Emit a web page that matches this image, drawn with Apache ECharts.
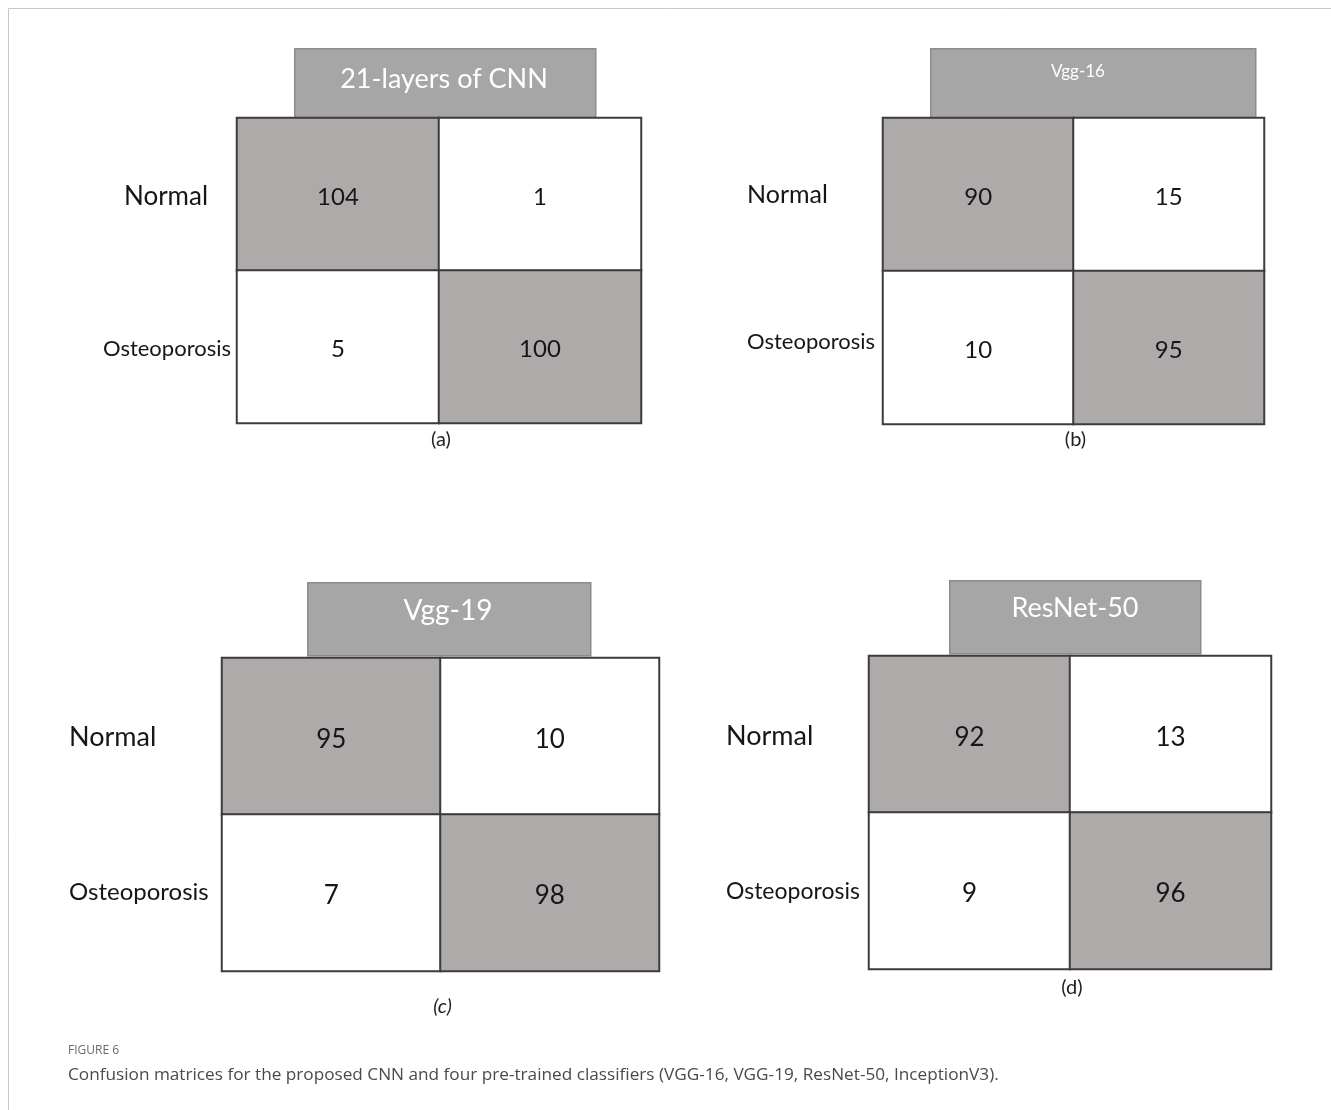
<!DOCTYPE html>
<html>
<head>
<meta charset="utf-8">
<script src="https://cdn.jsdelivr.net/npm/echarts@6/dist/echarts.min.js"></script>
<style>
  html, body { margin: 0; padding: 0; background: #ffffff; }
  #chart { width: 1331px; height: 1110px; }
</style>
</head>
<body>
<div id="chart"></div>
<script>
// Confusion matrix counts: rows = actual class, columns = predicted class
const rowLabels = ['Normal', 'Osteoporosis'];
const colLabels = ['Normal', 'Osteoporosis'];
const modelNames = ['21-layers of CNN', 'Vgg-16', 'Vgg-19', 'ResNet-50'];
const panelTags = ['(a)', '(b)', '(c)', '(d)'];
const cnn21 = [[104, 1], [5, 100]];
const vgg16 = [[90, 15], [10, 95]];
const vgg19 = [[95, 10], [7, 98]];
const resnet50 = [[92, 13], [9, 96]];
const matrices = [cnn21, vgg16, vgg19, resnet50];

const captionTitle = 'FIGURE 6';
const captionText = 'Confusion matrices for the proposed CNN and four pre-trained classifiers (VGG-16, VGG-19, ResNet-50, InceptionV3).';

// Panel geometry (pixels)
const layout = [
  { grid: [237, 118, 404, 305], head: [294, 48, 301, 70], headFont: 27, headX: 444, headY: 79,
    tagY: 440, tagItalic: false, cellFont: 24, rowFont: [26, 22], rowAlign: ['center', 'right'],
    labelBox: 130, rowDy: [2, 2] },
  { grid: [883, 118, 381, 306], head: [930, 48, 325, 70], headFont: 17, headX: 1078, headY: 72,
    tagY: 440, tagItalic: false, cellFont: 24, rowFont: [25, 22], rowAlign: ['left', 'left'],
    labelBox: 130, rowDy: [0, -6] },
  { grid: [222, 658, 437, 313], head: [307, 582, 283, 73], headFont: 28, headX: 448, headY: 611,
    tagY: 1007, tagItalic: true, cellFont: 26, rowFont: [27, 24], rowAlign: ['left', 'left'],
    labelBox: 147, rowDy: [1, 0] },
  { grid: [869, 656, 402, 313], head: [949, 580, 251, 73], headFont: 27, headX: 1075, headY: 608,
    tagY: 988, tagItalic: false, cellFont: 26, rowFont: [27, 23], rowAlign: ['left', 'left'],
    labelBox: 137, rowDy: [2, 1] }
];

const FONT = 'Lato, "Open Sans", sans-serif';
const CELL_GREY = '#aeaaaa';
const CELL_WHITE = '#ffffff';
const LINE = '#3c3c3c';
const TEXT = '#161616';
const LABEL_GAP = 6;

const grids = [], xAxes = [], yAxes = [], series = [], graphics = [];

layout.forEach((p, k) => {
  const [gl, gt, gw, gh] = p.grid;
  grids.push({ left: gl, top: gt, width: gw, height: gh, containLabel: false, outerBoundsMode: 'none' });

  xAxes.push({
    type: 'category', gridIndex: k, data: colLabels,
    axisLine: { show: false }, axisTick: { show: false }, axisLabel: { show: false },
    splitLine: { show: false }
  });

  const rich = {};
  rowLabels.forEach((r, i) => {
    rich['r' + i] = {
      width: p.labelBox, align: p.rowAlign[i], fontSize: p.rowFont[i],
      fontFamily: FONT, color: TEXT,
      padding: p.rowDy[i] >= 0 ? [p.rowDy[i] * 2, 0, 0, 0] : [0, 0, -p.rowDy[i] * 2, 0]
    };
  });

  yAxes.push({
    type: 'category', gridIndex: k, inverse: true, data: rowLabels,
    axisLine: { show: false }, axisTick: { show: false }, splitLine: { show: false },
    axisLabel: {
      show: true, margin: LABEL_GAP, align: 'right',
      formatter: (v) => '{r' + rowLabels.indexOf(v) + '|' + v + '}',
      rich: rich
    }
  });

  const m = matrices[k];
  const data = [];
  m.forEach((row, i) => row.forEach((v, j) => {
    data.push({
      value: [j, i, v],
      itemStyle: { color: i === j ? CELL_GREY : CELL_WHITE }
    });
  }));

  series.push({
    type: 'heatmap', xAxisIndex: k, yAxisIndex: k, data: data,
    itemStyle: { borderColor: LINE, borderWidth: 2 },
    label: {
      show: true, color: TEXT, fontFamily: FONT, fontSize: p.cellFont,
      offset: [0, 3],
      formatter: (d) => String(d.value[2])
    },
    emphasis: { disabled: true },
    silent: true
  });

  // Model name header box above each matrix
  const [hl, ht, hw, hh] = p.head;
  graphics.push({
    type: 'rect', left: hl, top: ht, silent: true,
    shape: { width: hw, height: hh },
    style: { fill: '#a6a6a6', stroke: '#8c8c8c', lineWidth: 1.5 }
  });
  graphics.push({
    type: 'text', x: p.headX, y: p.headY, silent: true,
    style: {
      text: modelNames[k], fill: '#ffffff', font: `${p.headFont}px ${FONT}`,
      align: 'center', verticalAlign: 'middle'
    }
  });

  // Panel tag below each matrix
  graphics.push({
    type: 'text', x: gl + gw / 2 + 2, y: p.tagY, silent: true,
    style: {
      text: panelTags[k], fill: '#222222',
      font: `${p.tagItalic ? 'italic ' : ''}20px ${FONT}`,
      align: 'center', verticalAlign: 'middle'
    }
  });
});

// Figure frame (top and left rules)
graphics.push({
  type: 'polyline', silent: true,
  shape: { points: [[8.5, 1110], [8.5, 8.5], [1331, 8.5]] },
  style: { stroke: '#c8c8c8', lineWidth: 1, fill: null }
});

// Caption
graphics.push({
  type: 'text', x: 68, y: 1051, silent: true,
  style: { text: captionTitle, fill: '#6a6a6a', font: '12px "Open Sans", sans-serif', verticalAlign: 'middle' }
});
graphics.push({
  type: 'text', x: 68, y: 1075, silent: true,
  style: { text: captionText, fill: '#4a4a4a', font: '17.2px "Open Sans", sans-serif', verticalAlign: 'middle' }
});

const chart = echarts.init(document.getElementById('chart'), null, { renderer: 'canvas' });
chart.setOption({
  backgroundColor: '#ffffff',
  animation: false,
  grid: grids,
  xAxis: xAxes,
  yAxis: yAxes,
  series: series,
  graphic: graphics
});
</script>
</body>
</html>
